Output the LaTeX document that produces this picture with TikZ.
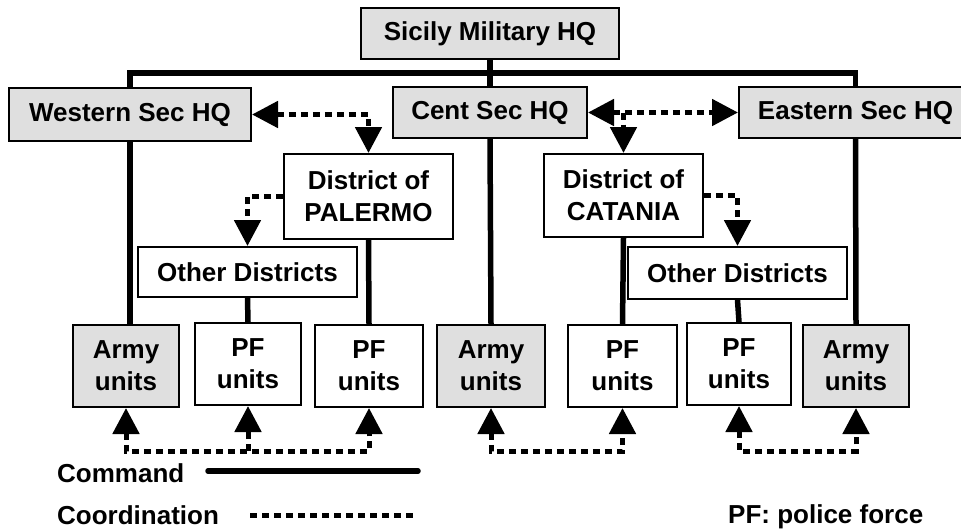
\documentclass[tikz,border=0pt]{standalone}
\usepackage{fontspec}
\setmainfont{Liberation Sans}
\usetikzlibrary{arrows.meta, positioning}

\begin{document}
\begin{tikzpicture}[x=1pt, y=-1pt,
  box/.style={rectangle, draw, line width=2pt, inner sep=0pt, align=center, font=\bfseries\fontsize{26}{32}\selectfont},
  hq/.style={box, fill=gray!25},
  unit/.style={box, minimum height=82pt},
  lbl/.style={inner sep=0pt, font=\bfseries\fontsize{26}{32}\selectfont},
  cmd/.style={line width=5.5pt},
  coord/.style={line width=5pt, dash pattern=on 7pt off 5pt},
  arr/.style={coord, -{Triangle[length=26pt, width=26pt]}},
  biarr/.style={coord, {Triangle[length=26pt, width=26pt]}-{Triangle[length=26pt, width=26pt]}}
]
  \useasboundingbox (0,0) rectangle (961,531);

  % HQ level
  \node[hq, minimum width=258pt, minimum height=51pt] (sicily) at (490,33.5) {Sicily Military HQ};
  \node[hq, minimum width=242pt, minimum height=53pt] (west) at (130,114.5) {Western Sec HQ};
  \node[hq, minimum width=194pt, minimum height=51pt] (cent) at (490,112.5) {Cent Sec HQ};
  \node[hq, minimum width=233pt, minimum height=51pt] (east) at (855.5,112.5) {Eastern Sec HQ};

  % Districts
  \node[box, minimum width=169pt, minimum height=85pt] (palermo) at (368.5,196.5) {District of\\PALERMO};
  \node[box, minimum width=159pt, minimum height=83pt] (catania) at (623.5,195.5) {District of\\CATANIA};
  \node[box, minimum width=219pt, minimum height=50pt] (otherW) at (247.5,272) {Other Districts};
  \node[box, minimum width=219pt, minimum height=52pt] (otherE) at (737.5,273) {Other Districts};

  % Units
  \node[unit, fill=gray!25, minimum width=106pt] (armyW) at (126,366) {Army\\units};
  \node[unit, minimum width=106pt] (pfA) at (248,364) {PF\\units};
  \node[unit, minimum width=108pt] (pfB) at (369,366) {PF\\units};
  \node[unit, fill=gray!25, minimum width=108pt] (armyC) at (491,366) {Army\\units};
  \node[unit, minimum width=109pt] (pfC) at (622.5,366) {PF\\units};
  \node[unit, minimum width=104pt] (pfD) at (739,364) {PF\\units};
  \node[unit, fill=gray!25, minimum width=106pt] (armyE) at (856,366) {Army\\units};

  % Command lines
  \coordinate (bus) at (490,73);
  \draw[cmd] (west.north) |- (bus) -| (east.north);
  \draw[cmd] (sicily) -- (cent);
  \draw[cmd] (west.south) -- (west.south |- armyW.north);
  \draw[cmd] (cent.south) -- (armyC.north);
  \draw[cmd] (east.south) -- (armyE.north);
  \draw[cmd] (palermo.south) -- (pfB.north);
  \draw[cmd] (catania.south) -- (pfC.north);
  \draw[cmd] (otherW.south) -- (pfA.north);
  \draw[cmd] (otherE.south) -- (pfD.north);

  % Coordination lines
  \draw[biarr] (west.east) -| (palermo.north);
  \draw[biarr] (cent.east) -- (east.west);
  \draw[arr] (cent.east -| catania.north) -- (catania.north);
  \draw[arr] (palermo.west) -| (otherW.north);
  \draw[arr] (catania.east) -| (otherE.north);

  \coordinate (lowbus) at (0,451);
  \draw[biarr] (armyW.south) |- (lowbus -| pfB.south) -- (pfB.south);
  \draw[arr] (lowbus -| pfA.south) -- (pfA.south);
  \draw[biarr] (armyC.south) |- (lowbus -| pfC.south) -- (pfC.south);
  \draw[biarr] (pfD.south) |- (lowbus -| armyE.south) -- (armyE.south);

  % Legend
  \node[lbl, anchor=west] (cmdtxt) at (57,473) {Command};
  \node[lbl, anchor=west] (cootxt) at (57,515) {Coordination};
  \node[lbl, anchor=west] (pftxt) at (728,517) {PF: police force};
  \coordinate (cmdA) at (208,471);
  \coordinate (cmdB) at (418,471);
  \coordinate (cooA) at (250,515);
  \coordinate (cooB) at (414,515);
  \draw[cmd, line cap=round] (cmdA) -- (cmdB);
  \draw[coord] (cooA) -- (cooB);
\end{tikzpicture}
\end{document}
